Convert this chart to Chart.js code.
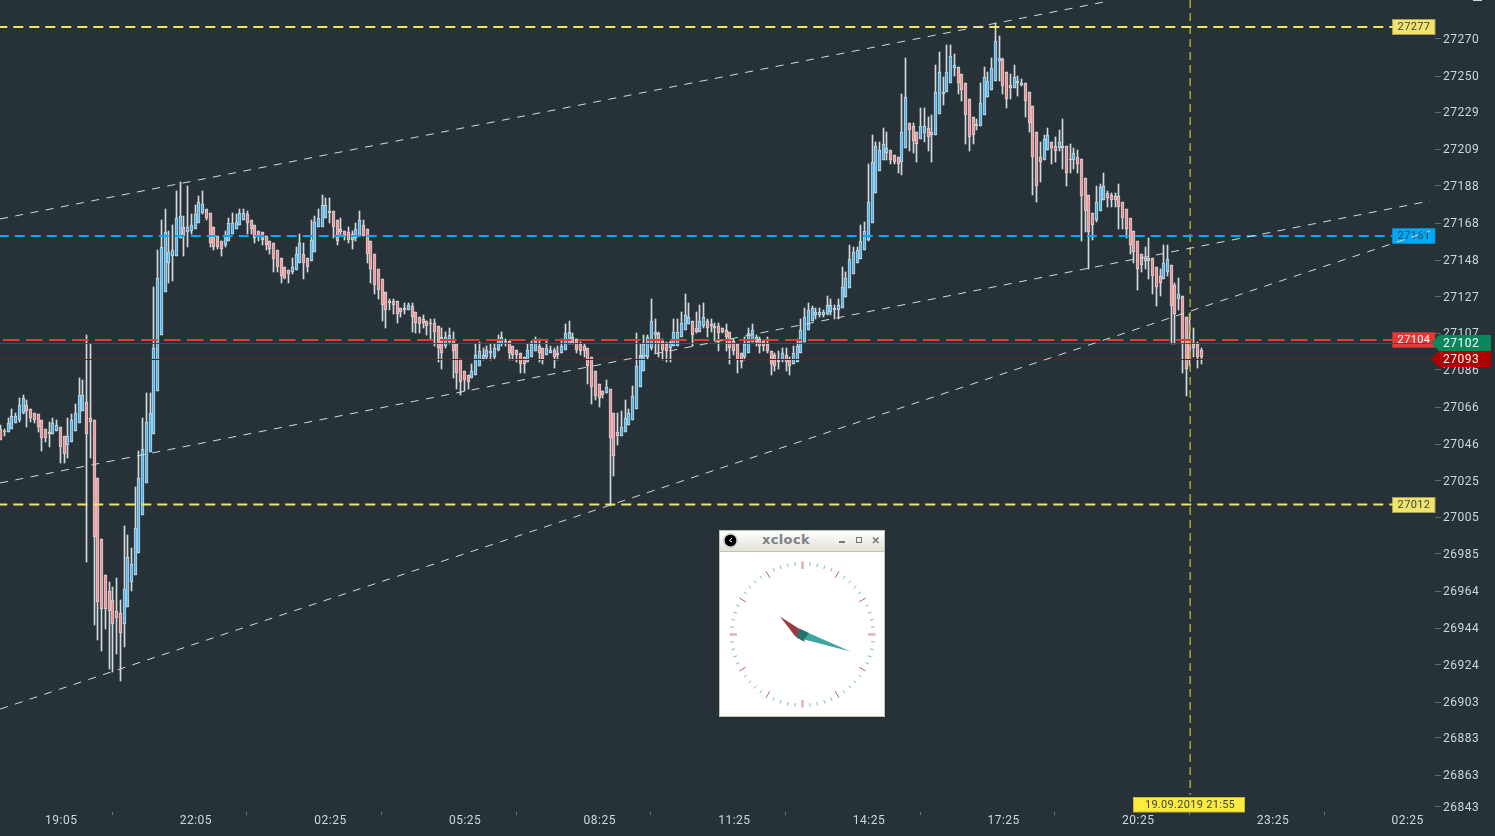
<!DOCTYPE html>
<html>
<head>
<meta charset="utf-8">
<title>xclock chart</title>
<script src="https://cdn.jsdelivr.net/npm/chart.js@4/dist/chart.umd.min.js"></script>
<style>
    html, body { margin: 0; padding: 0; background: #263238; overflow: hidden; }
    #wrap { position: relative; width: 1495px; height: 836px; }
    canvas#chart { position: absolute; left: 0; top: 0; }
    #xclock { position: absolute; left: 719px; top: 530px; width: 164px; height: 185px; background: #fff; border: 1px solid #c4c4ae; }
    #xclock .bar { position: absolute; left: 0; top: 0; width: 100%; height: 20px; background: linear-gradient(#ffffff, #e2e2d6); border-bottom: 1px solid #c4c4ae; }
    #xclock .name { position: absolute; left: 0; top: 1px; width: 132px; text-align: center; font: bold 13px "DejaVu Sans", sans-serif; color: #7d8288; letter-spacing: 0.4px; }
    #xclock svg { position: absolute; left: 0; top: 0; }
</style>
</head>
<body>
<div id="wrap">
    <canvas id="chart" width="1495" height="836"></canvas>
    <div id="xclock">
        <div class="bar"><div class="name">xclock</div></div>
        <svg id="face" width="164" height="185"></svg>
    </div>
</div>
<script>
const opens = [
    27054,27053,27052,27054,27057,27059,27063,27067,27065,27063,
    27062,27059,27054,27052,27051,27053,27055,27050,27045,27047,
    27053,27057,27064,27069,27060,27059,27027,26993,26973,26964,
    26959,26953,26952,26946,26955,26969,26973,26985,27006,27024,
    27041,27051,27075,27106,27130,27146,27150,27150,27160,27166,
    27163,27164,27165,27168,27174,27176,27174,27166,27161,27158,
    27156,27158,27162,27165,27167,27170,27173,27170,27167,27164,
    27163,27161,27158,27157,27153,27149,27144,27142,27141,27142,
    27146,27151,27149,27147,27152,27166,27166,27171,27175,27175,
    27170,27165,27164,27163,27162,27160,27161,27167,27165,27158,
    27151,27143,27137,27130,27125,27125,27125,27121,27120,27120,
    27122,27119,27116,27115,27114,27113,27113,27111,27105,27100,
    27102,27104,27101,27093,27086,27084,27082,27084,27089,27093,
    27094,27096,27094,27098,27101,27103,27103,27100,27098,27096,
    27094,27091,27094,27097,27100,27099,27095,27096,27098,27096,
    27096,27098,27101,27105,27104,27101,27100,27099,27094,27086,
    27079,27075,27074,27076,27063,27052,27050,27052,27056,27059,
    27065,27077,27086,27094,27099,27106,27107,27103,27101,27099,
    27100,27100,27105,27109,27112,27114,27110,27108,27111,27114,
    27112,27111,27111,27110,27109,27108,27103,27101,27096,27094,
    27096,27102,27105,27104,27103,27101,27097,27095,27091,27092,
    27095,27093,27090,27091,27096,27102,27109,27114,27117,27117,
    27117,27118,27119,27121,27120,27121,27127,27132,27140,27146,
    27148,27153,27159,27168,27185,27197,27203,27207,27209,27206,
    27205,27202,27210,27224,27222,27219,27215,27218,27221,27219,
    27217,27229,27240,27241,27246,27254,27255,27251,27246,27237,
    27227,27222,27222,27228,27238,27242,27247,27258,27259,27252,
    27245,27243,27247,27246,27246,27241,27233,27219,27205,27203,
    27209,27213,27211,27210,27211,27211,27204,27203,27205,27204,
    27193,27184,27174,27170,27175,27181,27185,27184,27183,27183,
    27180,27176,27171,27164,27158,27151,27147,27149,27149,27144,
    27139,27137,27141,27145,27134,27126,27128,27116,27104,27101,
    27101,27098
];
const highs = [
    27056,27054,27060,27065,27063,27071,27073,27070,27065,27063,
    27062,27059,27054,27058,27060,27059,27055,27050,27060,27062,
    27068,27082,27081,27106,27101,27059,27027,26993,26973,26969,
    26966,26971,26959,27000,26995,26988,27022,27042,27060,27074,
    27074,27133,27153,27170,27176,27164,27167,27186,27191,27172,
    27189,27173,27178,27183,27186,27176,27174,27166,27161,27158,
    27164,27171,27174,27173,27176,27176,27175,27170,27167,27164,
    27163,27161,27158,27157,27153,27149,27144,27142,27149,27155,
    27162,27157,27149,27170,27172,27176,27184,27182,27182,27175,
    27170,27171,27164,27166,27164,27168,27175,27170,27165,27158,
    27151,27143,27137,27130,27126,27126,27125,27121,27124,27124,
    27124,27119,27116,27117,27114,27115,27115,27111,27110,27108,
    27110,27108,27101,27093,27086,27084,27090,27101,27102,27099,
    27100,27101,27101,27106,27108,27104,27103,27100,27098,27096,
    27094,27101,27103,27105,27104,27099,27103,27100,27099,27100,
    27104,27112,27114,27107,27104,27102,27101,27099,27094,27086,
    27079,27075,27081,27076,27063,27063,27064,27070,27065,27078,
    27107,27101,27106,27106,27126,27115,27108,27104,27102,27103,
    27115,27115,27119,27129,27124,27114,27119,27123,27124,27115,
    27115,27113,27113,27110,27112,27108,27104,27101,27096,27105,
    27110,27112,27106,27105,27103,27105,27097,27096,27097,27099,
    27099,27094,27100,27104,27115,27121,27124,27122,27121,27121,
    27120,27128,27126,27123,27126,27144,27141,27156,27155,27155,
    27167,27169,27201,27217,27213,27213,27221,27219,27209,27206,
    27205,27240,27260,27224,27224,27219,27232,27232,27227,27228,
    27256,27263,27249,27267,27267,27262,27255,27251,27246,27237,
    27227,27226,27246,27255,27252,27260,27279,27272,27260,27252,
    27251,27256,27250,27248,27246,27241,27233,27219,27213,27217,
    27221,27213,27216,27220,27226,27211,27212,27210,27209,27204,
    27193,27184,27174,27189,27190,27196,27186,27185,27185,27190,
    27180,27176,27171,27164,27158,27151,27155,27160,27149,27144,
    27143,27156,27156,27145,27135,27138,27128,27116,27118,27110,
    27102,27099
];
const lows = [
    27048,27050,27052,27054,27057,27058,27062,27055,27058,27057,
    27052,27042,27047,27044,27051,27053,27035,27035,27038,27047,
    27053,27057,27064,26980,27038,26945,26937,26931,26943,26921,
    26919,26929,26914,26933,26955,26964,26973,26985,27006,27024,
    27041,27051,27075,27106,27130,27135,27136,27150,27160,27150,
    27155,27162,27165,27168,27173,27170,27155,27153,27154,27150,
    27155,27158,27162,27165,27167,27170,27162,27162,27157,27158,
    27156,27153,27151,27141,27141,27135,27137,27135,27140,27142,
    27146,27137,27141,27147,27152,27166,27166,27171,27168,27160,
    27156,27161,27159,27157,27154,27158,27161,27161,27146,27135,
    27129,27126,27114,27110,27120,27118,27113,27116,27118,27120,
    27108,27107,27107,27110,27106,27104,27100,27091,27087,27099,
    27101,27082,27076,27073,27075,27076,27082,27084,27089,27092,
    27093,27092,27093,27097,27100,27100,27092,27092,27091,27085,
    27085,27091,27094,27097,27091,27090,27095,27096,27088,27092,
    27096,27098,27101,27101,27096,27095,27094,27079,27068,27070,
    27066,27071,27074,27011,27028,27045,27050,27052,27056,27059,
    27065,27077,27086,27093,27098,27096,27094,27092,27091,27091,
    27100,27100,27105,27109,27112,27100,27107,27108,27110,27105,
    27108,27103,27097,27107,27097,27090,27095,27085,27088,27092,
    27096,27102,27100,27096,27097,27096,27084,27086,27087,27091,
    27086,27084,27090,27091,27096,27102,27109,27114,27115,27116,
    27116,27117,27117,27115,27115,27121,27127,27132,27140,27146,
    27148,27153,27158,27168,27185,27197,27203,27203,27201,27201,
    27196,27195,27210,27208,27207,27202,27215,27213,27208,27202,
    27217,27229,27234,27241,27246,27250,27240,27236,27212,27208,
    27212,27220,27222,27228,27238,27242,27247,27247,27240,27232,
    27237,27243,27239,27244,27227,27219,27184,27180,27191,27203,
    27209,27201,27202,27208,27198,27189,27196,27198,27196,27158,
    27163,27143,27159,27169,27175,27181,27177,27177,27177,27165,
    27165,27160,27151,27146,27131,27141,27143,27137,27129,27122,
    27128,27137,27139,27101,27101,27120,27085,27072,27089,27094,
    27088,27090
];
const closes = [
    27048,27052,27057,27061,27061,27067,27071,27064,27060,27059,
    27055,27049,27049,27051,27057,27056,27044,27040,27050,27059,
    27063,27073,27073,27051,27058,26994,26958,26954,26954,26953,
    26946,26949,26941,26965,26983,26979,26999,27027,27043,27058,
    27063,27099,27138,27155,27163,27152,27153,27171,27172,27161,
    27166,27167,27173,27180,27179,27171,27157,27155,27155,27154,
    27161,27168,27168,27169,27174,27174,27168,27165,27160,27161,
    27159,27156,27154,27148,27144,27139,27138,27140,27144,27151,
    27157,27146,27144,27159,27169,27171,27178,27178,27174,27166,
    27158,27163,27161,27159,27159,27165,27170,27161,27151,27143,
    27134,27131,27123,27120,27124,27123,27118,27119,27121,27123,
    27116,27113,27112,27113,27111,27112,27108,27099,27096,27105,
    27106,27097,27085,27080,27081,27080,27086,27095,27097,27095,
    27098,27097,27099,27104,27105,27102,27096,27095,27095,27090,
    27090,27098,27101,27103,27096,27093,27099,27098,27094,27095,
    27100,27107,27108,27101,27098,27097,27097,27089,27077,27072,
    27071,27073,27077,27049,27039,27050,27055,27060,27063,27072,
    27089,27095,27101,27105,27114,27108,27101,27098,27097,27102,
    27108,27108,27113,27117,27116,27106,27108,27114,27116,27110,
    27111,27110,27107,27108,27105,27099,27097,27092,27091,27101,
    27107,27109,27102,27100,27100,27097,27090,27089,27092,27096,
    27091,27089,27096,27100,27109,27116,27120,27121,27119,27119,
    27119,27123,27123,27120,27123,27133,27138,27148,27152,27153,
    27158,27164,27180,27202,27211,27209,27212,27210,27203,27202,
    27201,27219,27238,27220,27214,27212,27222,27222,27216,27217,
    27241,27252,27241,27252,27261,27256,27246,27242,27228,27216,
    27217,27223,27235,27249,27247,27254,27269,27260,27244,27237,
    27243,27249,27246,27245,27236,27224,27205,27189,27202,27215,
    27217,27210,27208,27213,27210,27196,27203,27207,27201,27183,
    27175,27163,27167,27180,27188,27189,27182,27181,27181,27177,
    27171,27165,27156,27152,27143,27145,27149,27147,27139,27133,
    27135,27146,27148,27122,27118,27129,27101,27087,27093,27099,
    27094,27094
];

const xTickIndex = [12, 48, 84, 120, 156, 192, 228, 264, 300, 336, 372];
const xTickLabels = ['19:05', '22:05', '02:25', '05:25', '08:25', '11:25', '14:25', '17:25', '20:25', '23:25', '02:25'];

const yTickValues = [27270.4, 27249.8, 27229.8, 27209.3, 27188.8, 27168.2, 27147.7, 27127.2, 27107.2, 27086.7, 27066.1,
    27045.6, 27025.1, 27005.1, 26984.6, 26964, 26943.5, 26923, 26902.4, 26882.5, 26861.9, 26844.2];
const yTickLabels = ['27270', '27250', '27229', '27209', '27188', '27168', '27148', '27127', '27107', '27086', '27066',
    '27046', '27025', '27005', '26985', '26964', '26944', '26924', '26903', '26883', '26863', '26843'];

// horizontal levels and their tags
const levelNames = ['27277', '27161', '27104', '27012'];
const levelPrices = [27277, 27161, 27103.3, 27012];
const levelColors = ['#f2e36b', '#03a9f4', '#e53935', '#f2e36b'];
const levelTagText = ['#37474f', '#1c3f55', '#ffffff', '#37474f'];
const levelTagEdge = ['#a89e50', '#0a87c0', '#a83434', '#a89e50'];
const levelDash = [[10, 6], [10, 6], [16.5, 6.5], [10, 6]];
const levelStart = [-0.75, -0.38, 0.77, -0.75];

// the two live prices, and the channel lines as [index, price, index, price]
const priceNames = ['27102', '27093'];
const priceValues = [27101.4, 27092.5];
const priceColors = ['#07875a', '#b00000'];
const priceLines = ['#0a6b4a', '#7f1416'];
const trendLines = [
    [-0.03, 27170.5, 295.4, 27291],
    [0, 27024, 382.3, 27180.5],
    [0, 26898.5, 382.3, 27163.8]
];

const crossIndex = 318.2;
const crossLabel = '19.09.2019 21:55';

const lastIndex = 372.4;

const wickData = highs.map((h, i) => ({ x: i, y: [lows[i], h] }));
const bodyData = opens.map((o, i) => ({ x: i, y: [o, closes[i]] }));
const bodyFill = opens.map((o, i) => closes[i] >= o ? '#45b2ee' : '#f58a8a');

// candles sit on whole pixels in the original, so snap the bars after layout
const snapBars = {
    id: 'snapBars',
    afterDatasetsUpdate(chart) {
        chart.data.datasets.forEach((ds, i) => {
            if (ds.type !== 'bar') return;
            chart.getDatasetMeta(i).data.forEach(el => {
                el.x = Math.round(el.x) + 0.5;
                el.y = Math.round(el.y);
                el.base = Math.round(el.base);
            });
        });
    }
};

const rightTags = {
    id: 'rightTags',
    beforeDraw(chart) {
        chart.ctx.letterSpacing = '0.5px';
    },
    beforeDatasetsDraw(chart) {
        const ctx = chart.ctx;
        const y = chart.scales.y;
        ctx.save();
        ctx.letterSpacing = '0.4px';
        ctx.font = "11px Roboto";
        ctx.textAlign = 'center';
        ctx.textBaseline = 'middle';
        levelPrices.forEach((p, i) => {
            const py = Math.round(y.getPixelForValue(p));
            ctx.fillStyle = levelColors[i];
            ctx.fillRect(1392.5, py - 7.5, 42.5, 15);
            ctx.strokeStyle = levelTagEdge[i];
            ctx.lineWidth = 1;
            ctx.strokeRect(1392.5, py - 7.5, 42.5, 15);
            ctx.fillStyle = levelTagText[i];
            ctx.fillText(levelNames[i], 1414, py + 0.5);
        });
        ctx.restore();
    },
    afterDraw(chart) {
        const ctx = chart.ctx;
        const y = chart.scales.y;
        ctx.save();
        ctx.letterSpacing = '0.5px';
        ctx.font = "12px Roboto";
        ctx.textBaseline = 'middle';
        ctx.textAlign = 'left';
        priceValues.forEach((p, i) => {
            const py = Math.floor(y.getPixelForValue(p));
            ctx.fillStyle = priceColors[i];
            ctx.beginPath();
            ctx.moveTo(1431, py);
            ctx.lineTo(1439, py - 8);
            ctx.lineTo(1491, py - 8);
            ctx.lineTo(1491, py + 8);
            ctx.lineTo(1439, py + 8);
            ctx.closePath();
            ctx.fill();
            ctx.fillStyle = '#ffffff';
            ctx.fillText(priceNames[i], 1443, py + 1);
        });

        // date tag under the crosshair
        ctx.fillStyle = '#ffeb3b';
        ctx.fillRect(1133.5, 797, 111, 15);
        ctx.strokeStyle = '#c9b835';
        ctx.strokeRect(1133.5, 797.5, 111, 14.5);
        ctx.fillStyle = '#37474f';
        ctx.letterSpacing = '0.3px';
        ctx.font = "11px Roboto";
        ctx.textAlign = 'center';
        ctx.fillText(crossLabel, 1190, 805);

        // sliver of a cut off label in the corner
        ctx.fillStyle = '#cfd8dc';
        ctx.fillRect(1473, 0, 9, 1);
        ctx.restore();
    }
};

const lineSets = [];
levelPrices.forEach((p, i) => {
    lineSets.push({
        type: 'line', order: 1, borderColor: levelColors[i], borderWidth: 2, borderDash: levelDash[i],
        pointRadius: 0, data: [{ x: levelStart[i], y: p }, { x: lastIndex, y: p }]
    });
});
priceValues.forEach((p, i) => {
    lineSets.push({
        type: 'line', order: 1, borderColor: priceLines[i], borderWidth: 1,
        pointRadius: 0, data: [{ x: -1, y: p }, { x: 382.6, y: p }]
    });
});
trendLines.forEach(t => {
    lineSets.push({
        type: 'line', order: 0, borderColor: '#d5dadc', borderWidth: 1, borderDash: [8, 7.5],
        pointRadius: 0, data: [{ x: t[0], y: t[1] }, { x: t[2], y: t[3] }]
    });
});
lineSets.push({
    type: 'line', order: 1, borderColor: '#b3a32c', borderWidth: 1.5, borderDash: [8, 5],
    pointRadius: 0, data: [{ x: crossIndex, y: 27292 }, { x: crossIndex, y: 26851 }]
});

new Chart(document.getElementById('chart'), {
    type: 'bar',
    data: {
        datasets: [
            ...lineSets,
            {
                type: 'bar', order: 2, data: bodyData, grouped: false, barThickness: 3,
                backgroundColor: bodyFill, borderColor: '#cfd6d9', borderWidth: 1, borderSkipped: false
            },
            {
                type: 'bar', order: 3, data: wickData, grouped: false, barThickness: 1,
                backgroundColor: '#d3dadd', borderWidth: 0
            }
        ]
    },
    options: {
        responsive: false,
        animation: false,
        events: [],
        layout: { padding: 0 },
        plugins: { legend: { display: false }, tooltip: { enabled: false } },
        scales: {
            x: {
                type: 'linear',
                offset: false,
                min: -0.032,
                max: 383.66,
                border: { display: false },
                grid: { drawOnChartArea: false, drawTicks: true, tickLength: 3, tickColor: '#607d8b' },
                afterBuildTicks(scale) { scale.ticks = xTickIndex.map(v => ({ value: v })); },
                afterFit(scale) {
                    scale.height = 24;
                    scale.paddingLeft = 0;
                    scale.paddingRight = 0;
                },
                ticks: {
                    autoSkip: false,
                    maxRotation: 0,
                    align: 'start',
                    padding: -1,
                    color: '#cfd8dc',
                    font: { family: 'Roboto', size: 12 },
                    callback: (v, i) => xTickLabels[i]
                }
            },
            y: {
                position: 'right',
                min: 26841.4,
                max: 27292,
                border: { display: false },
                grid: { drawOnChartArea: false, drawTicks: true, tickLength: 6, tickColor: '#546e7a' },
                afterBuildTicks(scale) { scale.ticks = yTickValues.map(v => ({ value: v })); },
                afterFit(scale) {
                    scale.width = 60;
                    scale.paddingTop = 0;
                    scale.paddingBottom = 0;
                },
                ticks: {
                    autoSkip: false,
                    padding: 2,
                    labelOffset: 1,
                    color: '#cfd8dc',
                    font: { family: 'Roboto', size: 12 },
                    callback: (v, i) => yTickLabels[i]
                }
            }
        }
    },
    plugins: [snapBars, rightTags]
});

// the little clock window sitting on top of the chart
function drawClockFace() {
    const svg = document.getElementById('face');
    const cx = 82.5, cy = 103.5;
    let out = '';
    for (let m = 0; m < 60; m++) {
        const a = m * Math.PI / 30;
        let r0 = 69, r1 = 72.5, color = '#74bcbc', w = 1;
        if (m % 15 === 0) { r0 = 65.5; r1 = 73; color = '#deb0b0'; w = 2.4; }
        else if (m % 5 === 0) { r0 = 65.5; r1 = 73; color = '#b5666a'; w = 1; }
        out += `<line x1="${cx + Math.sin(a) * r0}" y1="${cy - Math.cos(a) * r0}" x2="${cx + Math.sin(a) * r1}" y2="${cy - Math.cos(a) * r1}" stroke="${color}" stroke-width="${w}"/>`;
    }
    out += '<polygon points="60,85.5 79.5,98 85,111 75,105" fill="#973c3f"/>';
    out += '<polygon points="130.5,120.5 88.5,102 76.5,106.5" fill="#3ba6a2"/>';
    out += '<polygon points="79.5,97.5 89,102 83,110 76.5,106.5" fill="#28706f"/>';
    // title bar icon and buttons
    out += '<circle cx="10.5" cy="9.5" r="6" fill="#000"/><circle cx="10.5" cy="9.5" r="7" fill="none" stroke="#ccc" stroke-width="1"/>';
    out += '<path d="M12 7 L9.5 9.5 L12 11" stroke="#fff" fill="none"/>';
    out += '<rect x="119" y="10" width="6" height="2" fill="#777"/>';
    out += '<rect x="136.5" y="6.5" width="5" height="5" fill="none" stroke="#777"/>';
    out += '<path d="M153 6.5 L158.5 12 M158.5 6.5 L153 12" stroke="#777" stroke-width="1.6"/>';
    svg.innerHTML = out;
}
drawClockFace();
</script>
</body>
</html>
